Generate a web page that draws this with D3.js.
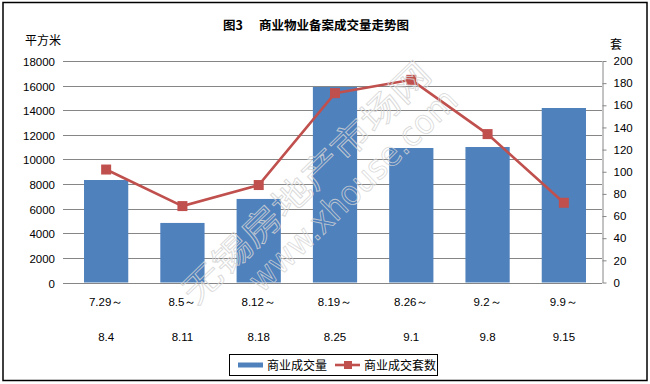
<!DOCTYPE html>
<html><head><meta charset="utf-8">
<script src="https://cdn.jsdelivr.net/npm/d3@7"></script>
<style>
html,body{margin:0;padding:0;background:#fff;}
svg{display:block;}
</style></head>
<body>
<svg id="chart" width="650" height="384"></svg>
<script>
const categoriesTop = ["7.29～","8.5～","8.12～","8.19～","8.26～","9.2～","9.9～"];
const categoriesBottom = ["8.4","8.11","8.18","8.25","9.1","9.8","9.15"];
const areaValues = [8330, 4840, 6790, 15890, 10930, 11010, 14180];
const setValues = [102, 69, 88, 171, 183, 134, 72];
const leftTicks = [0,2000,4000,6000,8000,10000,12000,14000,16000,18000];
const rightTicks = [0,20,40,60,80,100,120,140,160,180,200];
const seriesNames = ["商业成交量","商业成交套数"];
const titleParts = ["图3","商业物业备案成交量走势图"];
const leftUnit = "平方米", rightUnit = "套";
const watermarkCN = "无锡房地产市场网", watermarkEN = "www.xhouse.com";

const svg = d3.select("#chart");
const L = 68, R = 602, T = 61, B = 282.5;
const numFont = "'Liberation Sans', Arial, sans-serif";
const cjkFont = "'Noto Sans CJK SC', sans-serif";
const blue = "#4F81BD", red = "#C0504D", grid = "#868686";

const x = d3.scaleBand().domain(d3.range(categoriesTop.length)).range([L, R]).paddingInner(0.42).paddingOuter(0.21);
const yL = d3.scaleLinear().domain([0, 18000]).range([B, T]);
const yR = d3.scaleLinear().domain([0, 200]).range([B, T]);

// outer border
svg.append("rect").attr("x", 3).attr("y", 2.5).attr("width", 644).attr("height", 378)
  .attr("fill", "#fff").attr("stroke", "#000").attr("stroke-width", 1.5);

// title
const title = svg.append("text").attr("y", 30).attr("font-family", cjkFont).attr("font-weight", "bold").attr("font-size", 12.5).attr("fill", "#000");
title.append("tspan").attr("x", 223).text(titleParts[0]);
title.append("tspan").attr("x", 259).text(titleParts[1]);

// units
svg.append("text").attr("x", 25).attr("y", 45).attr("font-family", cjkFont).attr("font-size", 12).text(leftUnit);
svg.append("text").attr("x", 610).attr("y", 49).attr("font-family", cjkFont).attr("font-size", 12).text(rightUnit);

// gridlines + left labels
const gl = svg.append("g");
leftTicks.forEach(t => {
  const yy = Math.round(yL(t)) + 0.5;
  gl.append("line").attr("x1", 63).attr("x2", R).attr("y1", yy).attr("y2", yy).attr("stroke", grid).attr("stroke-width", 1);
  gl.append("text").attr("x", 55).attr("y", yy + 4).attr("text-anchor", "end")
    .attr("font-family", numFont).attr("font-size", 11.5).attr("fill", "#000").text(t);
});

// right axis
const rAxis = d3.axisRight(yR).tickValues(rightTicks).tickSize(4).tickPadding(7).tickSizeOuter(0);
const rg = svg.append("g").attr("transform", `translate(${R + 0.5},0)`).call(rAxis);
rg.select(".domain").attr("stroke", grid);
rg.selectAll(".tick line").attr("stroke", grid);
rg.selectAll(".tick text").attr("font-family", numFont).attr("font-size", 11.5).attr("fill", "#000");

// bars
svg.append("g").selectAll("rect").data(areaValues).join("rect")
  .attr("x", (d, i) => x(i)).attr("width", x.bandwidth())
  .attr("y", d => yL(d)).attr("height", d => B - yL(d)).attr("fill", blue);

// baseline
svg.append("line").attr("x1", L).attr("x2", R).attr("y1", Math.round(B) + 0.5).attr("y2", Math.round(B) + 0.5).attr("stroke", grid);

// line
const line = d3.line().x((d, i) => x(i) + x.bandwidth() / 2).y(d => yR(d));
svg.append("path").datum(setValues).attr("d", line).attr("fill", "none").attr("stroke", red).attr("stroke-width", 2.6);
svg.append("g").selectAll("rect").data(setValues).join("rect")
  .attr("x", (d, i) => x(i) + x.bandwidth() / 2 - 5).attr("y", d => yR(d) - 5)
  .attr("width", 10).attr("height", 10).attr("fill", red);

// x labels
const xl = svg.append("g").attr("font-family", numFont).attr("font-size", 11.5).attr("text-anchor", "middle").attr("fill", "#000");
categoriesTop.forEach((c, i) => {
  xl.append("text").attr("x", x(i) + x.bandwidth() / 2).attr("y", 306).text(c);
  xl.append("text").attr("x", x(i) + x.bandwidth() / 2).attr("y", 341).text(categoriesBottom[i]);
});

// watermark (faint outlined text)
const wm = svg.append("g").attr("fill", "none").attr("pointer-events", "none");
[[watermarkCN, 196, 306, 330, cjkFont, 34], [watermarkEN, 262, 294, 275, "'DejaVu Sans', sans-serif", 34]].forEach(([t, tx, ty, len, f, fs]) => {
  const g = wm.append("g").attr("transform", `translate(${tx},${ty}) rotate(-44)`);
  g.append("text").attr("font-family", f).attr("font-size", fs).attr("textLength", len).attr("lengthAdjust", "spacingAndGlyphs")
    .attr("stroke", "#d4d4d4").attr("stroke-width", 0.9).attr("stroke-opacity", 0.85).text(t);
});

// legend
const lg = svg.append("g");
lg.append("rect").attr("x", 229.5).attr("y", 354.5).attr("width", 208).attr("height", 21).attr("fill", "#fff").attr("stroke", "#000").attr("stroke-width", 1);
lg.append("line").attr("x1", 238).attr("x2", 263).attr("y1", 365).attr("y2", 365).attr("stroke", blue).attr("stroke-width", 5);
lg.append("text").attr("x", 267).attr("y", 370).attr("font-family", cjkFont).attr("font-size", 12).text(seriesNames[0]);
lg.append("line").attr("x1", 335).attr("x2", 360).attr("y1", 365).attr("y2", 365).attr("stroke", red).attr("stroke-width", 2.6);
lg.append("rect").attr("x", 344).attr("y", 361).attr("width", 8).attr("height", 8).attr("fill", red);
lg.append("text").attr("x", 364).attr("y", 370).attr("font-family", cjkFont).attr("font-size", 12).text(seriesNames[1]);
</script>
</body></html>
